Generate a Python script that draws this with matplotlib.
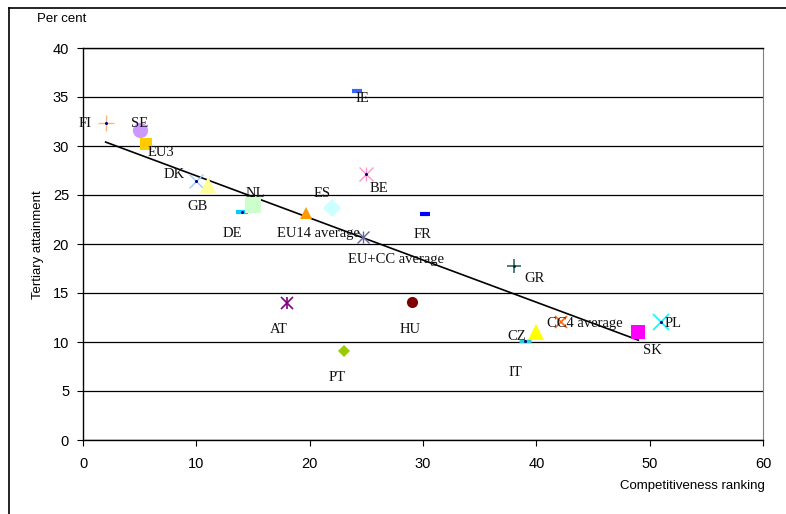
import matplotlib
matplotlib.use("Agg")
import matplotlib.pyplot as plt
from matplotlib.lines import Line2D

# Countries / aggregates: competitiveness ranking (x) vs tertiary attainment in per cent (y)
names = ["FI", "SE", "EU3", "DK", "GB", "DE", "NL", "EU14 average", "ES", "IE",
         "BE", "EU+CC average", "FR", "AT", "HU", "PT", "GR", "CZ", "IT",
         "CC4 average", "SK", "PL"]
ranking = [2, 5, 5.6, 10, 11, 14, 15, 19.7, 22, 24.2,
           25, 24.7, 30.2, 18, 29, 23, 38, 40, 39,
           42.2, 49, 51]
attainment = [32.3, 31.6, 30.2, 26.4, 26.0, 23.3, 24.0, 23.2, 23.7, 35.6,
              27.1, 20.7, 23.1, 14.0, 14.1, 9.1, 17.8, 11.0, 10.1,
              12.0, 11.0, 12.0]

# Linear trend through the country points
trend_intercept = 31.26
trend_slope = -0.43
trend_x = [2, 49]

# marker, face colour, size, edge width, centre-dot colour
styles = {
    "FI": ("+", "#FFB37F", 11, 1.0, "#000080"),
    "SE": ("o", "#CC99FF", 11, 0, None),
    "EU3": ("s", "#FFCC00", 8, 0, None),
    "DK": ("x", "#99CCFF", 10, 1.0, "#000080"),
    "GB": ("^", "#FFFF99", 11, 0, None),
    "DE": ("_", "#00CCFF", 9, 3.0, "#000080"),
    "NL": ("s", "#CCFFCC", 12, 0, None),
    "EU14 average": ("^", "#FF9900", 8, 0, None),
    "ES": ("D", "#CCFFFF", 9, 0, None),
    "IE": ("_", "#3366FF", 7, 3.0, None),
    "BE": ("asterisk", "#FF99CC", 10, 1.0, "#000080"),
    "EU+CC average": ("asterisk", "#666699", 8, 1.0, None),
    "FR": ("_", "#0000FF", 7, 3.0, None),
    "AT": ("asterisk", "#800080", 9, 1.2, None),
    "HU": ("o", "#800000", 8, 0, None),
    "PT": ("D", "#99CC00", 6, 0, None),
    "GR": ("+", "#336666", 10, 1.2, "#003333"),
    "CZ": ("^", "#FFFF00", 11, 0, None),
    "IT": ("_", "#33CCCC", 9, 2.5, "#000080"),
    "CC4 average": ("x", "#FF6600", 9, 1.2, None),
    "SK": ("s", "#FF00FF", 10, 0, None),
    "PL": ("x", "#00FFFF", 11, 1.2, "#000080"),
}

# label offsets in points (dx, dy) and horizontal alignment
label_pos = {
    "FI": (-10, 0, "right"), "SE": (0, 5, "center"), "EU3": (1, -6, "left"),
    "DK": (-16, 5, "center"), "GB": (-7, -15, "center"), "DE": (-7, -16, "center"),
    "NL": (2, 8, "center"), "EU14 average": (9, -15, "center"),
    "ES": (-7, 10, "center"), "IE": (4, -5, "center"), "BE": (9, -10, "center"),
    "EU+CC average": (24, -16, "center"), "FR": (-2, -15, "center"),
    "AT": (-6, -19, "center"), "HU": (-1, -20, "center"), "PT": (-5, -19, "center"),
    "GR": (15, -9, "center"), "CZ": (-14, -3, "center"), "IT": (-7, -23, "center"),
    "CC4 average": (17, -1, "center"), "SK": (10, -13, "center"),
    "PL": (9, -1, "center"),
}

fig = plt.figure(figsize=(7.86, 5.14), dpi=100)
ax = fig.add_axes([83 / 786, 1 - 440 / 514, 680 / 786, 392 / 514])

ax.set_xlim(0, 60)
ax.set_ylim(0, 40)
ax.set_xticks(range(0, 61, 10))
ax.set_yticks(range(0, 41, 5))
ax.yaxis.grid(True, color="black", linewidth=0.9)
ax.set_axisbelow(True)
for side in ("left", "bottom", "top"):
    ax.spines[side].set_color("black")
    ax.spines[side].set_linewidth(1.0)
ax.spines["right"].set_color("#808080")
ax.tick_params(axis="both", direction="out", length=4, width=0.8,
               labelsize=10.5)
ax.tick_params(axis="x", pad=8)
ax.tick_params(axis="y", pad=6)
for lab in ax.get_xticklabels() + ax.get_yticklabels():
    lab.set_fontfamily("Liberation Sans")

# trend line
ty = [trend_intercept + trend_slope * x for x in trend_x]
ax.plot(trend_x, ty, color="black", linewidth=1.2, zorder=2)

for name, x, y in zip(names, ranking, attainment):
    mk, col, ms, mew, dot = styles[name]
    if mk == "asterisk":
        for part in ("x", "|"):
            ax.plot(x, y, marker=part, color=col, markersize=ms,
                    markeredgewidth=mew, linestyle="none", zorder=3)
    elif mk in ("+", "x", "_"):
        ax.plot(x, y, marker=mk, color=col, markersize=ms, markeredgewidth=mew,
                linestyle="none", zorder=3)
    else:
        ax.plot(x, y, marker=mk, color=col, markersize=ms, markeredgewidth=0,
                linestyle="none", zorder=3)
    if dot:
        ax.plot(x, y, marker="o", color=dot, markersize=2.2, markeredgewidth=0,
                linestyle="none", zorder=4)
    dx, dy, ha = label_pos[name]
    ax.annotate(name, (x, y), xytext=(dx, dy), textcoords="offset points",
                ha=ha, va="center", fontsize=10.5, family="Liberation Serif",
                color="#111111", zorder=5)

fig.text(37 / 786, 1 - 19 / 514, "Per cent", fontsize=9.5,
         family="Liberation Sans", va="center", ha="left")
fig.text(38 / 786, 1 - 245 / 514, "Tertiary attainment", fontsize=9.5,
         family="Liberation Sans", va="center", ha="center", rotation=90)
fig.text(765 / 786, 1 - 486 / 514, "Competitiveness ranking", fontsize=9.5,
         family="Liberation Sans", va="center", ha="right")

# outer frame lines
fig.add_artist(Line2D([8.5 / 786, 8.5 / 786], [0, 1 - 8 / 514],
                      transform=fig.transFigure, color="black", linewidth=1.2))
fig.add_artist(Line2D([8.5 / 786, 1], [1 - 8 / 514, 1 - 8 / 514],
                      transform=fig.transFigure, color="black", linewidth=1.2))

fig.savefig("out.png", dpi=100)
